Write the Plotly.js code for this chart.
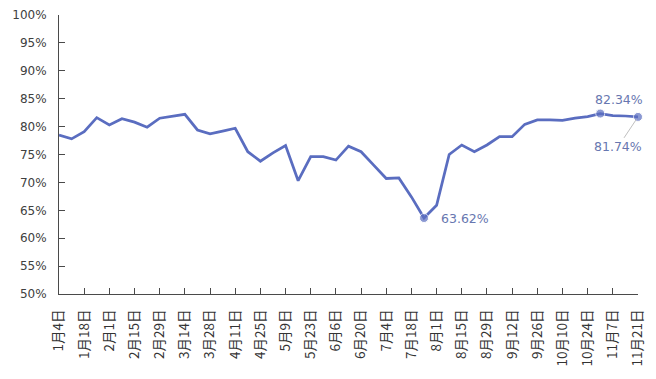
<!DOCTYPE html>
<html>
<head>
<meta charset="utf-8">
<script src="https://cdn.plot.ly/plotly-3.0.1.min.js"></script>
<style>html,body{margin:0;padding:0;background:#fff;}#chart{width:656px;height:379px;}</style>
</head>
<body>
<div id="chart"></div>
<script>
const weeks = ["1月4日","1月11日","1月18日","1月25日","2月1日","2月8日","2月15日","2月22日","2月29日","3月7日","3月14日","3月21日","3月28日","4月4日","4月11日","4月18日","4月25日","5月2日","5月9日","5月16日","5月23日","5月30日","6月6日","6月13日","6月20日","6月27日","7月4日","7月11日","7月18日","7月25日","8月1日","8月8日","8月15日","8月22日","8月29日","9月5日","9月12日","9月19日","9月26日","10月3日","10月10日","10月17日","10月24日","10月31日","11月7日","11月14日","11月21日"];
const rates = [78.5,77.8,79.1,81.6,80.3,81.4,80.8,79.9,81.5,81.8,82.2,79.4,78.7,79.2,79.7,75.5,73.8,75.3,76.6,70.3,74.6,74.6,74.0,76.5,75.5,73.1,70.7,70.8,67.4,63.62,65.9,75.0,76.7,75.5,76.7,78.2,78.2,80.4,81.2,81.2,81.1,81.5,81.8,82.34,81.95,81.9,81.74];
const tickLabels = ["1月4日","1月18日","2月1日","2月15日","2月29日","3月14日","3月28日","4月11日","4月25日","5月9日","5月23日","6月6日","6月20日","7月4日","7月18日","8月1日","8月15日","8月29日","9月12日","9月26日","10月10日","10月24日","11月7日","11月21日"];
const yTicks = [50,55,60,65,70,75,80,85,90,95,100];
const yTickText = ["50%","55%","60%","65%","70%","75%","80%","85%","90%","95%","100%"];
const markedWeeks = ["7月25日","10月31日","11月21日"];

const lineColor = "#5A6DC0";
const labelColor = "#6777B0";
const axisColor = "#4a4a4a";

const sizes = weeks.map(w => markedWeeks.includes(w) ? 9 : 0);

const trace = {
  x: weeks, y: rates, type: "scatter", mode: "lines+markers",
  line: {color: lineColor, width: 2.75},
  marker: {color: lineColor, size: sizes},
  cliponaxis: false,
  hoverinfo: "skip"
};

function pt(w){ const i = weeks.indexOf(w); return {x: w, y: rates[i], text: rates[i].toFixed(2) + "%"}; }
const a1 = pt("7月25日"), a2 = pt("10月31日"), a3 = pt("11月21日");
const afont = {family: "DejaVu Sans, Verdana, sans-serif", size: 12.5, color: labelColor};
const annotations = [
  {x: a1.x, y: a1.y, text: a1.text, showarrow: false, xanchor: "left", xshift: 15, yshift: 0, font: afont},
  {x: a2.x, y: a2.y, text: a2.text, showarrow: false, xanchor: "center", xshift: 19, yshift: 14, font: afont},
  {x: a3.x, y: a3.y, text: a3.text, showarrow: true, ax: -20, ay: 30, arrowhead: 0, arrowwidth: 1, arrowcolor: "#BFBFBF", standoff: 3, font: afont}
];

const layout = {
  width: 656, height: 379,
  margin: {l: 59, r: 18, t: 15, b: 85},
  paper_bgcolor: "#fff", plot_bgcolor: "#fff",
  showlegend: false,
  xaxis: {
    type: "category", range: [0, weeks.length - 1],
    tickmode: "array", tickvals: tickLabels, ticktext: tickLabels,
    tickangle: -90, ticks: "inside", ticklen: 6, tickcolor: axisColor,
    showline: true, linecolor: axisColor, linewidth: 1, showgrid: false, zeroline: false,
    ticklabelstandoff: 9,
    tickfont: {family: "Noto Sans CJK SC, sans-serif", size: 13.5, color: "#333"}
  },
  yaxis: {
    range: [50, 100], tickmode: "array", tickvals: yTicks, ticktext: yTickText,
    ticks: "inside", ticklen: 6, tickcolor: axisColor,
    showline: true, linecolor: axisColor, linewidth: 1, showgrid: false, zeroline: false,
    ticklabelstandoff: 9,
    tickfont: {family: "DejaVu Sans, Verdana, sans-serif", size: 12, color: "#404040"}
  },
  annotations: annotations
};

Plotly.newPlot("chart", [trace], layout, {displayModeBar: false, staticPlot: true});
</script>
</body>
</html>
